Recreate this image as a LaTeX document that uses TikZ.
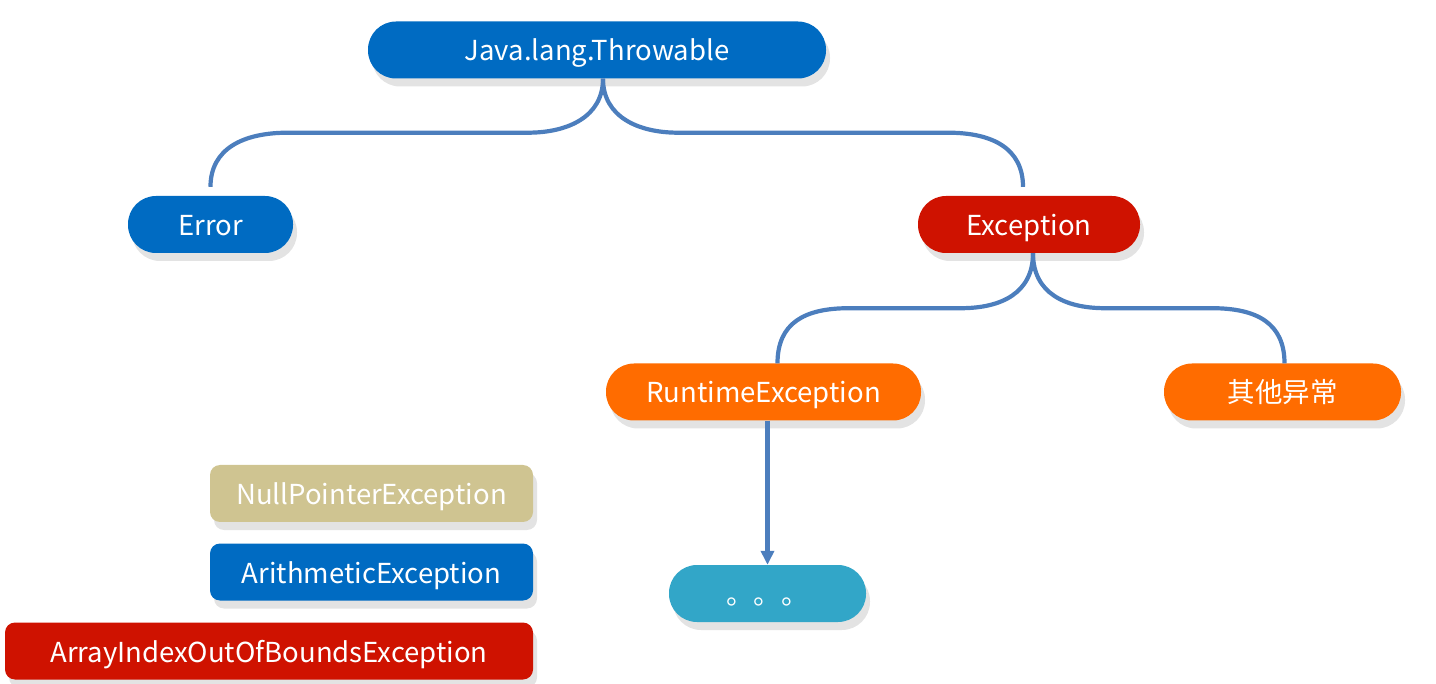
\documentclass[tikz,border=0pt]{standalone}
\usepackage{fontspec}
\setmainfont{Noto Sans CJK SC}
\usepackage{tikz}
\usetikzlibrary{arrows.meta,shadows}

\definecolor{throwblue}{HTML}{006BC2}
\definecolor{excred}{HTML}{CF1200}
\definecolor{runorange}{HTML}{FF6C00}
\definecolor{nullkhaki}{HTML}{CFC491}
\definecolor{dotsteal}{HTML}{32A6C8}
\definecolor{linkblue}{HTML}{4C7EBD}

\tikzset{
	pill/.style={rectangle, rounded corners=28pt, minimum height=57pt, inner sep=0pt,
		text=white, font=\fontsize{27.5}{32}\selectfont, text height=22pt, text depth=0pt,
		drop shadow={shadow xshift=4pt, shadow yshift=-8pt, fill=black!11, opacity=1}},
	tag/.style={pill, rounded corners=10pt},
	link/.style={draw=linkblue, line width=4.2pt},
}

\begin{document}
\begin{tikzpicture}[x=1pt,y=-1pt]
		\useasboundingbox (0,0) rectangle (1436,684);
%		\draw[help lines] (0,0) grid[step=100] (1436,684);
		\path (597,50) node(throwable) [pill,fill=throwblue,minimum width=458pt] {Java.lang.Throwable};
		\path (210.5,224.5) node(error) [pill,fill=throwblue,minimum width=165pt] {Error};
		\path (1029,224.5) node(exception) [pill,fill=excred,minimum width=222pt] {Exception};
		\path (763.5,392) node(runtime) [pill,fill=runorange,minimum width=315pt] {RuntimeException};
		\path (1282.5,392) node(other) [pill,fill=runorange,minimum width=237pt] {其他异常};
		\path (767.5,593.5) node(dots) [pill,fill=dotsteal,minimum width=197pt] {。。。};

		\path (371.5,493.5) node(nullptr) [tag,fill=nullkhaki,minimum width=323pt] {NullPointerException};
		\path (371.5,572) node(arith) [tag,fill=throwblue,minimum width=323pt] {ArithmeticException};
		\path (269,651) node(arrayidx) [tag,fill=excred,minimum width=528pt] {ArrayIndexOutOfBoundsException};

		% Throwable -> Error / Exception
		\draw[link] ([xshift=6pt]throwable.south) .. controls +(0,38) and +(40,0) .. ++(-75,54)
			-- ++(-240,0) .. controls +(-45,0) and +(0,-38) .. ([yshift=9pt]error.north);
		\draw[link] ([xshift=6pt]throwable.south) .. controls +(0,38) and +(-40,0) .. ++(75,54)
			-- ++(270,0) .. controls +(45,0) and +(0,-38) .. ([xshift=-6pt,yshift=9pt]exception.north);

		% Exception -> RuntimeException / others
		\draw[link] ([xshift=4pt]exception.south) .. controls +(0,40) and +(40,0) .. ++(-72,55)
			-- ++(-112,0) .. controls +(-45,0) and +(0,-40) .. ([xshift=14pt]runtime.north);
		\draw[link] ([xshift=4pt]exception.south) .. controls +(0,40) and +(-40,0) .. ++(72,55)
			-- ++(107,0) .. controls +(45,0) and +(0,-40) .. ([xshift=2pt]other.north);

		\draw[link,-{Triangle[length=14pt,width=13pt]}] (dots.north |- runtime.south) -- (dots.north);
	\end{tikzpicture}
\end{document}
